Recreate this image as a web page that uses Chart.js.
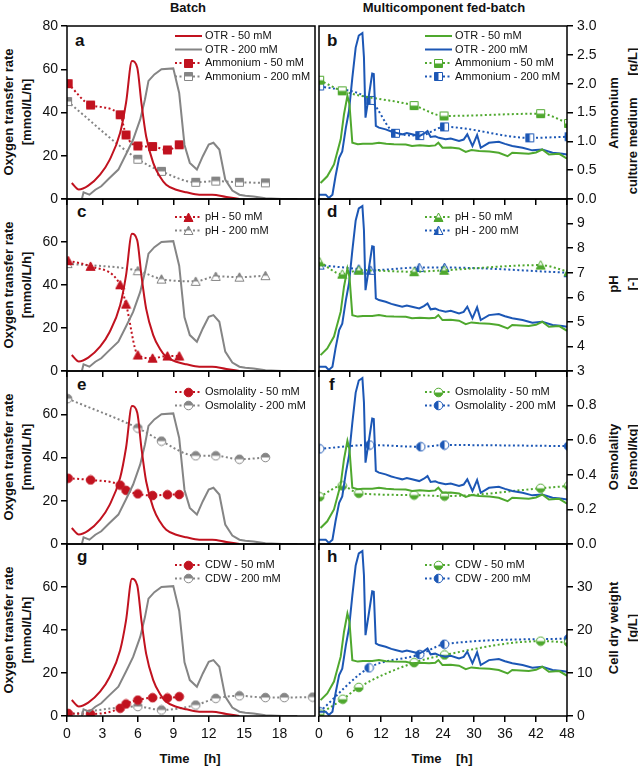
<!DOCTYPE html>
<html>
<head>
<meta charset="utf-8">
<script src="https://cdn.jsdelivr.net/npm/chart.js@4.4.0/dist/chart.umd.min.js"></script>
<style>
body{margin:0;background:#fff;}
#fig{position:relative;width:638px;height:767px;overflow:hidden;font-family:"Liberation Sans",Arial,sans-serif;color:#111;}
#fig canvas{position:absolute;}
.lbl{position:absolute;white-space:pre;font-weight:bold;font-size:13px;line-height:15px;transform:translate(-50%,-50%);}
.rot{transform:translate(-50%,-50%) rotate(-90deg);}
.let{position:absolute;font-weight:bold;font-size:17px;line-height:17px;}
</style>
</head>
<body>
<div id="fig">
  <div class="lbl" style="left:188px;top:7px">Batch</div>
  <div class="lbl" style="left:444px;top:7px">Multicomponent fed-batch</div>

  <div class="lbl rot" style="left:8px;top:112px">Oxygen transfer rate</div>
  <div class="lbl rot" style="left:26px;top:112px">[mmol/L/h]</div>
  <div class="lbl rot" style="left:8px;top:285px">Oxygen transfer rate</div>
  <div class="lbl rot" style="left:26px;top:285px">[mmol/L/h]</div>
  <div class="lbl rot" style="left:8px;top:457px">Oxygen transfer rate</div>
  <div class="lbl rot" style="left:26px;top:457px">[mmol/L/h]</div>
  <div class="lbl rot" style="left:8px;top:630px">Oxygen transfer rate</div>
  <div class="lbl rot" style="left:26px;top:630px">[mmol/L/h]</div>

  <div class="lbl rot" style="left:613px;top:113px">Ammonium</div>
  <div class="lbl rot" style="left:632px;top:121px">culture medium      [g/L]</div>
  <div class="lbl rot" style="left:613px;top:284px">pH</div>
  <div class="lbl rot" style="left:632px;top:284px">[-]</div>
  <div class="lbl rot" style="left:613px;top:457px">Osmolality</div>
  <div class="lbl rot" style="left:632px;top:457px">[osmol/kg]</div>
  <div class="lbl rot" style="left:613px;top:628px">Cell dry weight</div>
  <div class="lbl rot" style="left:632px;top:628px">[g/L]</div>

  <div class="lbl" style="left:190px;top:758px">Time    [h]</div>
  <div class="lbl" style="left:442px;top:758px">Time    [h]</div>

  <div class="let" style="left:75px;top:32px">a</div>
  <div class="let" style="left:327px;top:32px">b</div>
  <div class="let" style="left:77px;top:203px">c</div>
  <div class="let" style="left:327px;top:203px">d</div>
  <div class="let" style="left:77px;top:376px">e</div>
  <div class="let" style="left:329px;top:376px">f</div>
  <div class="let" style="left:77px;top:548px">g</div>
  <div class="let" style="left:327px;top:548px">h</div>
</div>
<script>
// ---- batch (left column) ----
var batchOtrT50 = [0.4,1.0,1.8,2.8,3.6,4.5,5.0,5.5,5.95,6.3,6.7,7.3,7.85,8.4,9.25,10.1,11.2,12.3,13.5,14.6];
var batchOtr50  = [7.4,4.4,6.2,11.3,18,30.6,44.5,63.8,60.7,44.5,29,16.7,10.5,6.6,4.3,3.1,2,2,0.9,0];
var batchOtrT200 = [1.26,1.4,1.9,2.4,2.9,3.6,4.35,5.05,5.6,6.2,6.6,6.9,7.4,8.0,9.0,9.5,9.95,10.4,11.0,11.5,12.0,12.4,12.9,13.4,14.0,14.6,15.1,15.8,16.8,18.2,19.5];
var batchOtr200  = [0,3.1,2,4.3,5.9,9.7,13.6,21.3,27.5,36.8,46,54.6,57.6,60,60.4,49,25,16.7,13.6,19.8,25.2,26,22.9,9,3.9,2,1.5,1.2,0.3,0,0];

var batchT50  = [0.1,2.0,4.5,5.0,6.0,7.25,8.5,9.5];
var batchT200 = [0.05,6.0,8.0,10.9,12.6,14.6,16.8];
var batchCdwT200 = [0.1,6.0,8.0,10.9,12.6,14.6,16.8,18.4,20.8];

var batchAmm50  = [2.0,1.63,1.46,1.11,0.92,0.91,0.85,0.94];
var batchAmm200 = [1.69,0.69,0.48,0.29,0.31,0.29,0.28];
var batchPh50   = [7.49,7.26,6.51,5.72,3.65,3.52,3.61,3.61];
var batchPh200  = [7.37,7.08,6.74,6.65,6.85,6.82,6.88];
var batchOsm50  = [0.38,0.37,0.34,0.31,0.29,0.28,0.285,0.286];
var batchOsm200 = [0.84,0.67,0.595,0.51,0.51,0.49,0.50];
var batchCdw50  = [0.6,0.46,1.8,2.8,3.7,4.25,4.2,4.5];
var batchCdw200 = [0.4,2.2,1.4,2.55,4.1,4.7,4.3,4.3,4.4];

// ---- multicomponent fed-batch (right column) ----
var fedOtrT50 = [0.3,1.6,2.9,4.2,4.84,5.5,5.9,6.45,7.5,8.5,10.3,11.6,13,14.5,16.8,18,19.5,21.3,22.5,23.1,23.9,25.5,27.1,28.4,29.5,31,33,34.8,36.5,37.4,39,40.6,42,43.2,44.5,46.5,48];
var fedOtr50  = [7.4,10.5,16,27.6,39.2,47.7,43.8,26,25.3,25.6,25.6,26,25.5,25.3,25.2,24.5,24.8,24.5,24.8,26,23.7,23.8,23.4,21.8,22.6,22.2,22,21.4,19.8,21.4,21.2,20.9,21.5,22.9,20.6,20.9,18.7];
var fedOtrT200 = [0,1.3,1.9,2.6,3.2,3.9,4.5,5.2,5.8,6.45,7.1,7.7,8.4,8.7,9.0,9.7,10.3,10.6,11.0,11.6,12.9,14.0,14.8,16.1,17.0,18,19.4,20.3,21.0,21.6,22.5,23.2,24.5,25.5,27.1,28.0,28.7,29.7,30.6,31.3,32.9,34.8,36,37.4,39.4,41.3,43.2,45.2,47.1,48];
var fedOtr200  = [2,2,0.5,2,10.5,19,22,33,40.7,56,70,75.6,76.7,65.5,37.6,48.5,58,57.8,33.8,33,32.2,31.2,30.7,29.9,30.5,29.9,29.1,30.2,31.4,28.7,29,28.3,27.6,28,26.8,27.5,29.9,24.5,29.6,23.7,26,26.5,25.5,24.5,23.7,22.5,22.9,21.4,20.9,20.6];

var fedAmmT50  = [0.13,4.5,18.4,24.2,42.9,48.3];
var fedAmm50   = [2.06,1.875,1.62,1.44,1.48,1.31];
var fedAmmT200 = [0.13,10.0,14.8,19.5,24.3,40.8,48.4];
var fedAmm200  = [1.96,1.71,1.14,1.10,1.25,1.06,1.08];
var fedPhT50   = [0.13,4.5,7.7,18.4,24.2,42.9,48.3];
var fedPh50    = [7.44,6.94,7.1,7.04,7.1,7.31,7.04];
var fedPhT200  = [0.13,7.7,10.0,19.4,24.3,48.3];
var fedPh200   = [7.31,7.15,7.1,7.21,7.21,7.0];
var fedOsmT50  = [0.13,4.5,7.7,18.4,24.3,42.9,48.3];
var fedOsm50   = [0.273,0.336,0.293,0.283,0.277,0.322,0.336];
var fedOsmT200 = [0.13,9.8,19.7,24.3,48.3];
var fedOsm200  = [0.55,0.572,0.562,0.572,0.566];
var fedCdwT50  = [0.13,4.6,7.7,18.4,24.3,42.9,48.3];
var fedCdw50   = [0.46,3.9,6.65,12.4,14.2,17.4,17.1];
var fedCdwT200 = [0.13,9.7,19.5,24.3,48.3];
var fedCdw200  = [1.0,11.2,14.3,16.7,18.0];

var rowNames = ['Ammonium','pH','Osmolality','CDW'];
var xTicksBatch = [0,3,6,9,12,15,18];

// ---- look ----
var RED = '#c1121f', GREY = '#858585', GREEN = '#4fa82e', BLUE = '#1c57b5';
var FONT = '"Liberation Sans", Arial, sans-serif';
var rowTop = [26,199,371,544], rowBot = [199,371,544,716];
var shapes = ['rect','triangle','circle','circle'];
var rightAxes = [
  {min:0, max:3,  step:0.5, dec:1, hideTop:false},
  {min:3, max:10, step:1,   dec:0, hideTop:true},
  {min:0, max:1,  step:0.2, dec:1, hideTop:true},
  {min:0, max:40, step:10,  dec:0, hideTop:true}
];
var legendTop = [10,18,21,21];

function pts(t, v) { return t.map(function (x, i) { return {x: x, y: v[i]}; }); }

function marker(shape, color, half) {
  var s = 11, c = document.createElement('canvas');
  c.width = s; c.height = s;
  var g = c.getContext('2d');
  function path() {
    g.beginPath();
    if (shape === 'rect') g.rect(1.5, 1.5, 8, 8);
    else if (shape === 'circle') g.arc(5.5, 5.5, 4.3, 0, Math.PI * 2);
    else { g.moveTo(5.5, 1); g.lineTo(10, 9.5); g.lineTo(1, 9.5); g.closePath(); }
  }
  path(); g.fillStyle = '#fff'; g.fill();
  g.save(); path(); g.clip(); g.fillStyle = color;
  if (half === 'full') g.fillRect(0, 0, s, s);
  else if (half === 'top') g.fillRect(0, 0, s, 5.5);
  else if (half === 'bottom') g.fillRect(0, 5.5, s, 6);
  else g.fillRect(0, 0, 5.5, s);
  g.restore();
  path(); g.strokeStyle = color; g.lineWidth = 1; g.stroke();
  return c;
}

function otrSet(label, data, color, smooth, inLegend) {
  return {label: label, data: data, yAxisID: 'y', borderColor: color, borderWidth: 2,
          pointRadius: 0, cubicInterpolationMode: smooth ? 'monotone' : 'default', inLegend: inLegend};
}
function dotSet(label, data, color, img) {
  return {label: label, data: data, yAxisID: 'y2', borderColor: color, backgroundColor: color,
          borderWidth: 2, borderDash: [2, 2.5], pointStyle: img, pointRadius: 5,
          cubicInterpolationMode: 'monotone', inLegend: true};
}

var panelPlugin = {
  id: 'panel',
  afterDraw: function (chart, args, opts) {
    var ctx = chart.ctx, a = chart.chartArea;
    ctx.save();
    var x0 = a.left + opts.left, y = a.top + opts.top;
    opts.order.forEach(function (i) {
      var ds = chart.data.datasets[i];
      if (!ds.inLegend) return;
      ctx.strokeStyle = ds.borderColor; ctx.lineWidth = ds.borderWidth;
      ctx.setLineDash(ds.borderDash || []);
      ctx.beginPath(); ctx.moveTo(x0, y); ctx.lineTo(x0 + 27, y); ctx.stroke();
      ctx.setLineDash([]);
      if (ds.pointStyle && ds.pointStyle.width) {
        ctx.drawImage(ds.pointStyle, Math.round(x0 + 13.5 - ds.pointStyle.width / 2), Math.round(y - ds.pointStyle.height / 2));
      }
      ctx.fillStyle = '#111'; ctx.font = '11px ' + FONT;
      ctx.textBaseline = 'middle'; ctx.textAlign = 'left';
      ctx.fillText(ds.label, x0 + 30, y);
      y += 13.5;
    });
    ctx.strokeStyle = '#000'; ctx.lineWidth = 1.5;
    ctx.strokeRect(a.left, a.top, a.right - a.left, a.bottom - a.top);
    ctx.restore();
  }
};

function makePanel(col, r, datasets) {
  var fig = document.getElementById('fig');
  var cv = document.createElement('canvas');
  var padTop = 12, last = r === 3, xH = last ? 30 : 8;
  var left = col === 0 ? 0 : 312, width = col === 0 ? 322 : 326;
  var height = padTop + (rowBot[r] - rowTop[r]) + xH;
  cv.width = width; cv.height = height;
  cv.style.left = left + 'px'; cv.style.top = (rowTop[r] - padTop) + 'px';
  fig.appendChild(cv);

  var tickFont = {family: FONT, size: 14};
  var grid = {display: true, drawOnChartArea: false, drawTicks: true, tickLength: 6, color: '#000', lineWidth: 1.5};
  var ra = rightAxes[r];
  var scales = {
    x: {type: 'linear', min: 0, max: col === 0 ? 21 : 48,
        grid: grid, border: {display: false},
        ticks: {display: last, stepSize: col === 0 ? 3 : 6, font: tickFont, color: '#111', padding: 4,
                maxRotation: 0, autoSkip: false},
        afterBuildTicks: function (s) {
          if (col === 0) s.ticks = xTicksBatch.map(function (v) { return {value: v}; });
        },
        afterFit: function (s) { s.height = xH; s.paddingLeft = 0; s.paddingRight = 0; }},
    y: {type: 'linear', min: 0, max: 80, display: col === 0, position: 'left',
        grid: grid, border: {display: false},
        ticks: {stepSize: 20, font: tickFont, color: '#111', padding: 3,
                callback: function (v) { return (r > 0 && v === 80) ? '' : v; }},
        afterFit: function (s) { s.width = col === 0 ? 67 : 0; s.paddingTop = 0; s.paddingBottom = 0; }},
    y2: {type: 'linear', min: ra.min, max: ra.max, display: col === 1, position: 'right',
         grid: grid, border: {display: false},
         ticks: {stepSize: ra.step, font: tickFont, color: '#111', padding: 4,
                 callback: function (v) {
                   if (ra.hideTop && Math.abs(v - ra.max) < 1e-6) return '';
                   return v.toFixed(ra.dec);
                 }},
         afterFit: function (s) { s.width = col === 1 ? 71 : 0; s.paddingTop = 0; s.paddingBottom = 0; }}
  };

  // legend order: OTR first when present, then the two sampled series
  var order = [];
  datasets.forEach(function (d, i) { if (d.yAxisID === 'y') order.push(i); });
  datasets.forEach(function (d, i) { if (d.yAxisID === 'y2') order.push(i); });

  new Chart(cv, {
    type: 'line',
    data: {datasets: datasets},
    options: {
      responsive: false, animation: false, devicePixelRatio: 1,
      layout: {padding: col === 0 ? {top: padTop, left: 0, right: 6, bottom: 0}
                                   : {top: padTop, left: 4, right: 0, bottom: 0}},
      plugins: {legend: {display: false}, tooltip: {enabled: false},
                panel: {left: col === 0 ? 108 : 106, top: legendTop[r], order: order}},
      scales: scales
    },
    plugins: [panelPlugin]
  });
}

var batchSec50 = [batchAmm50, batchPh50, batchOsm50, batchCdw50];
var batchSec200 = [batchAmm200, batchPh200, batchOsm200, batchCdw200];
var fedSec50 = [[fedAmmT50, fedAmm50], [fedPhT50, fedPh50], [fedOsmT50, fedOsm50], [fedCdwT50, fedCdw50]];
var fedSec200 = [[fedAmmT200, fedAmm200], [fedPhT200, fedPh200], [fedOsmT200, fedOsm200], [fedCdwT200, fedCdw200]];

for (var r = 0; r < 4; r++) {
  var showOtr = r === 0;
  var leftSets = [
    otrSet('OTR - 50 mM', pts(batchOtrT50, batchOtr50), RED, true, showOtr),
    otrSet('OTR - 200 mM', pts(batchOtrT200, batchOtr200), GREY, false, showOtr),
    dotSet(rowNames[r] + ' - 50 mM', pts(batchT50, batchSec50[r]), RED, marker(shapes[r], RED, 'full')),
    dotSet(rowNames[r] + ' - 200 mM', pts(r === 3 ? batchCdwT200 : batchT200, batchSec200[r]), GREY, marker(shapes[r], GREY, 'top'))
  ];
  makePanel(0, r, leftSets);

  var rightSets = [
    otrSet('OTR - 50 mM', pts(fedOtrT50, fedOtr50), GREEN, false, showOtr),
    otrSet('OTR - 200 mM', pts(fedOtrT200, fedOtr200), BLUE, false, showOtr),
    dotSet(rowNames[r] + ' - 50 mM', pts(fedSec50[r][0], fedSec50[r][1]), GREEN, marker(shapes[r], GREEN, 'bottom')),
    dotSet(rowNames[r] + ' - 200 mM', pts(fedSec200[r][0], fedSec200[r][1]), BLUE, marker(shapes[r], BLUE, 'left'))
  ];
  makePanel(1, r, rightSets);
}
</script>
</body>
</html>
